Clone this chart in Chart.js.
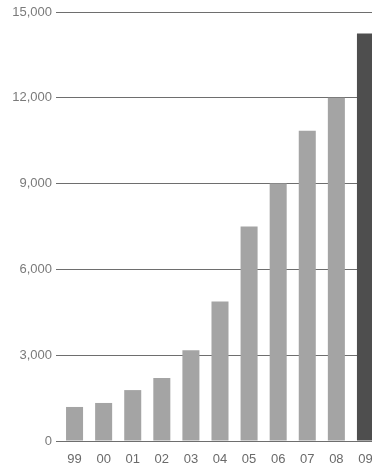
<!DOCTYPE html>
<html>
<head>
<meta charset="utf-8">
<script src="https://cdn.jsdelivr.net/npm/chart.js@4/dist/chart.umd.min.js"></script>
<style>
html,body{margin:0;padding:0;background:#fff;overflow:hidden;width:372px;height:465px;}
#wrap{width:390px;height:465px;position:relative;}
</style>
</head>
<body>
<div id="wrap"><canvas id="c" width="390" height="465"></canvas></div>
<script>
const categories = ['99','00','01','02','03','04','05','06','07','08','09'];
const values = [1190, 1330, 1780, 2200, 3170, 4880, 7500, 9000, 10850, 12000, 14250];
const yTicks = [0, 3000, 6000, 9000, 12000, 15000];

const FONT = "'Liberation Sans Narrow', 'Liberation Sans', sans-serif";
const barColors = values.map((v, i) => i === values.length - 1 ? '#4e4e4e' : '#a4a4a4');

new Chart(document.getElementById('c'), {
  type: 'bar',
  data: {
    labels: categories,
    datasets: [{ data: values, backgroundColor: barColors, borderWidth: 0,
      categoryPercentage: 1, barPercentage: 0.585 }]
  },
  options: {
    responsive: false,
    animation: false,
    layout: { padding: { top: 12, right: 10, left: 0, bottom: 0 } },
    plugins: { legend: { display: false }, tooltip: { enabled: false } },
    scales: {
      x: {
        type: 'category',
        offset: true,
        grid: { display: false, drawTicks: false },
        border: { display: false },
        ticks: { color: '#6a6a6a', font: { family: FONT, size: 13 }, padding: 11, maxRotation: 0, autoSkip: false },
        afterFit: s => { s.height = 24; }
      },
      y: {
        min: 0, max: 15000,
        afterBuildTicks: s => { s.ticks = yTicks.map(v => ({ value: v })); },
        grid: { color: '#6e6e6e', lineWidth: 1, drawTicks: true, tickLength: 4, tickColor: '#6e6e6e' },
        border: { display: false },
        ticks: { color: '#7a7a7a', font: { family: FONT, size: 13 }, padding: 4,
          callback: v => v.toLocaleString('en-US') },
        afterFit: s => { s.width = 60; }
      }
    }
  }
});
</script>
</body>
</html>
